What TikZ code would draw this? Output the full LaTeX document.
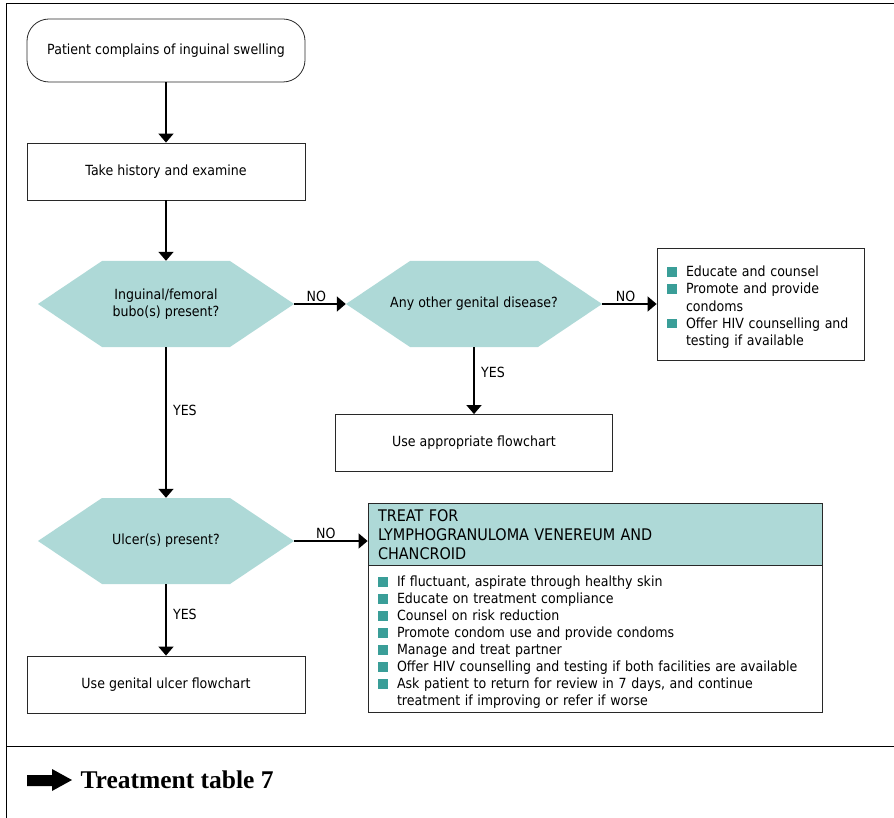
\documentclass[tikz,border=0pt]{standalone}
\usepackage{fontspec}
\setmainfont{DejaVu Sans}[FakeStretch=0.9]
\newfontfamily\tablefont{Liberation Serif}
\usetikzlibrary{arrows.meta,positioning}
\definecolor{QueryClr}{RGB}{174,217,215}
\definecolor{BulletClr}{RGB}{58,158,152}
\definecolor{LineClr}{RGB}{40,40,40}

% square bullet with hanging indent
\newcommand\sqitem[1]{\par\noindent\hangindent=19pt\hangafter=1%
  \makebox[19pt][l]{\textcolor{BulletClr}{\rule{9.5pt}{9.5pt}}}#1}

\tikzset{
  txt/.style={font=\fontsize{14}{17.5}\selectfont},
  flowbox/.style={txt,draw=LineClr,line width=0.8pt,minimum width=278pt,minimum height=57pt,align=center},
  startbox/.style={flowbox,rounded corners=22pt,minimum height=63pt},
  query/.style={txt,rectangle,fill=white,minimum width=256pt,minimum height=86pt,align=center,
    path picture={\fill[QueryClr] (path picture bounding box.west)
      -- ([xshift=64pt]path picture bounding box.north west)
      -- ([xshift=-64pt]path picture bounding box.north east)
      -- (path picture bounding box.east)
      -- ([xshift=-64pt]path picture bounding box.south east)
      -- ([xshift=64pt]path picture bounding box.south west) -- cycle;}},
  listbox/.style={txt,draw=LineClr,line width=0.8pt,inner xsep=10pt,align=left},
  flowarrow/.style={-{Triangle[width=15pt,length=9pt]},line width=1.5pt},
  no/.style={above,pos=0.43,inner sep=2pt,txt},
  yes/.style={right,pos=0.42,xshift=3pt,txt}
}

\begin{document}
\begin{tikzpicture}[x=1pt,y=-1pt]
\useasboundingbox (0,0) rectangle (894,818);

% page frame
\draw[line width=1pt] (894,4) -- (6,4) -- (6,818);
\draw[line width=1pt] (6,746) -- (894,746);

% left column
\node[startbox] (start) at (166,50.5) {Patient complains of inguinal swelling};
\node[flowbox] (history) at (166,171.5) {Take history and examine};
\node[query] (bubo) at (166,304) {Inguinal/femoral\\bubo(s) present?};
\node[query] (ulcer) at (166,541) {Ulcer(s) present?};
\node[flowbox] (ulcerflow) at (166,684.5) {Use genital ulcer flowchart};

% middle and right
\node[query] (other) at (474,304) {Any other genital disease?};
\node[flowbox,minimum width=277pt] (appflow) at (474,443) {Use appropriate flowchart};
\node[listbox,text width=187pt,minimum height=112pt,font=\fontsize{14}{17.2}\selectfont] (advice) at (760.5,304) {%
  \sqitem{Educate and counsel}
  \sqitem{Promote and provide\newline condoms}
  \sqitem{Offer HIV counselling and\newline testing if available}\par};

% treatment box
\node[listbox,fill=QueryClr,text width=434pt,minimum height=62pt,
  font=\fontsize{16}{19}\selectfont] (treat) at (595,534) {%
  \rule{0pt}{14pt}TREAT FOR\\LYMPHOGRANULOMA VENEREUM AND\\CHANCROID};
\node[listbox,text width=434pt,minimum height=147pt,below=0pt of treat,
  font=\fontsize{14}{17}\selectfont] (treatlist) {%
  \sqitem{If fluctuant, aspirate through healthy skin}
  \sqitem{Educate on treatment compliance}
  \sqitem{Counsel on risk reduction}
  \sqitem{Promote condom use and provide condoms}
  \sqitem{Manage and treat partner}
  \sqitem{Offer HIV counselling and testing if both facilities are available}
  \sqitem{Ask patient to return for review in 7 days, and continue\newline treatment if improving or refer if worse}\par};

% connectors
\draw[flowarrow] (start) -- (history);
\draw[flowarrow] (history) -- (bubo);
\draw[flowarrow] (bubo) -- node[no]{NO} (other);
\draw[flowarrow] (other) -- node[no]{NO} (advice);
\draw[flowarrow] (other) -- node[yes,pos=0.38]{YES} (appflow);
\draw[flowarrow] (bubo) -- node[yes]{YES} (ulcer);
\draw[flowarrow] (ulcer.east) -- node[no]{NO} (ulcer.east -| treat.west);
\draw[flowarrow] (ulcer) -- node[yes]{YES} (ulcerflow);

% treatment table pointer
\fill (27,775) -- (52,775) -- (52,769) -- (72,780) -- (52,791) -- (52,786) -- (27,786) -- cycle;
\node[anchor=west,font=\tablefont\bfseries\fontsize{25.5}{28}\selectfont] (tablenote) at (77,780) {Treatment table 7};
\end{tikzpicture}
\end{document}
